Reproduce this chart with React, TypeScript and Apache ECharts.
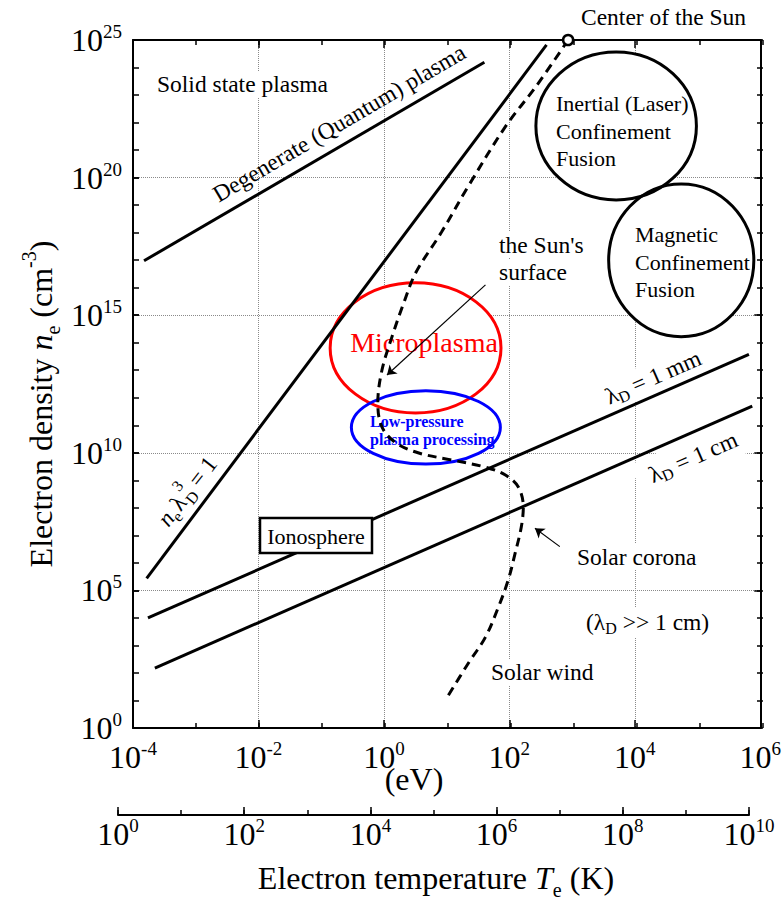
import React, { useEffect, useRef } from 'react';
import * as echarts from 'echarts';

const FONT = '"Liberation Serif", "Times New Roman", serif';
const BLACK = '#000000';

// Axis ranges
const tempEvRange = [1e-4, 1e6];
const tempKRange = [1, 1e10];
const densityRange = [1, 1e25];

// Boundary lines, end points as [T (eV)], [n (cm^-3)]
const degenerateT = [1.5e-4, 40];
const degenerateN = [9.5e16, 1.55e24];
const idealT = [1.65e-4, 391];
const idealN = [2.75e5, 6.6e24];
const debyeMmT = [1.73e-4, 6.6e5];
const debyeMmN = [1.0e4, 3.8e13];
const debyeCmT = [2.23e-4, 7.46e5];
const debyeCmN = [1.51e2, 5.0e11];

// Solar profile: core -> surface -> corona -> wind
const sunT = [865, 268, 86.5, 22.3, 8.3, 3.2, 2.07, 1.34, 0.93, 0.8, 0.93, 1.55, 3.6, 12, 41.6, 86.5, 139, 167, 155, 124, 96, 67, 41.6, 22.3, 9.6];
const sunN = [1e25, 2.1e23, 7.1e21, 5e19, 1.05e18, 3.4e16, 2.75e15, 1.6e14, 1e13, 6.5e11, 8.7e10, 2.3e10, 9.8e9, 5.5e9, 3.0e9, 1.55e9, 5.7e8, 1.07e8, 2.0e7, 2.3e6, 2.4e5, 2.5e4, 2.0e3, 230, 10.5];
const sunCenter = [865, 1e25];

// Plasma regimes drawn as ellipses: [Tmin, Tmax, nmin, nmax]
const regimeBounds = [
  [0.139, 73.6, 2.8e11, 1.5e16],
  [0.303, 71.9, 3.9e9, 1.8e12],
  [265, 9.6e4, 1.55e19, 3.7e24],
  [3830, 7.9e5, 1.66e14, 5.9e19],
];
const regimeColors = ['#ff0000', '#0000ff', BLACK, BLACK];

// Pointer arrows [from, to]
const sunSurfaceArrow = [[41.6, 1.26e16], [1.12, 6.7e12]];
const coronaArrow = [[638, 3.9e6], [256, 1.8e7]];

const tickRich = {
  b: { fontSize: 32, lineHeight: 36, fontFamily: FONT, color: BLACK },
  s: { fontSize: 19, lineHeight: 14, verticalAlign: 'top', fontFamily: FONT, color: BLACK },
};
const powerLabel = (v: number) => `{b|10}{s|${Math.round(Math.log10(v))}}`;

type AxisCfg = { line?: boolean; tick: number; label?: boolean; margin?: number; split?: boolean };

function logAxis(grid: number, position: string, range: number[], interval: number, c: AxisCfg) {
  return {
    type: 'log',
    logBase: 10,
    gridIndex: grid,
    position,
    min: range[0],
    max: range[1],
    interval,
    axisLine: { show: !!c.line, onZero: false, lineStyle: { color: BLACK, width: 2 } },
    axisTick: { show: c.tick > 0, inside: true, length: c.tick, lineStyle: { color: BLACK, width: 1.5 } },
    axisLabel: c.label
      ? { show: true, margin: c.margin, formatter: powerLabel, rich: tickRich, showMinLabel: true, showMaxLabel: true }
      : { show: false },
    splitLine: c.split
      ? { show: true, showMinLine: false, showMaxLine: false, lineStyle: { color: '#8a8a8a', width: 1, type: 'dotted' } }
      : { show: false },
    minorTick: { show: false },
    minorSplitLine: { show: false },
  };
}

const zip = (a: number[], b: number[]) => a.map((v, i) => [v, b[i]]);

function solidLine(name: string, T: number[], N: number[]) {
  return {
    type: 'line',
    name,
    xAxisIndex: 0,
    yAxisIndex: 0,
    data: zip(T, N),
    symbol: 'none',
    lineStyle: { color: BLACK, width: 3 },
    z: 3,
    silent: true,
  };
}

function ellipseSeries(fill: boolean) {
  return {
    type: 'custom',
    xAxisIndex: 0,
    yAxisIndex: 0,
    z: fill ? 1 : 3,
    silent: true,
    data: regimeBounds,
    encode: { x: [0, 1], y: [2, 3] },
    renderItem: (params: any, api: any) => {
      const tl = api.coord([api.value(0), api.value(3)]);
      const br = api.coord([api.value(1), api.value(2)]);
      return {
        type: 'ellipse',
        shape: {
          cx: (tl[0] + br[0]) / 2,
          cy: (tl[1] + br[1]) / 2,
          rx: (br[0] - tl[0]) / 2,
          ry: (br[1] - tl[1]) / 2,
        },
        style: fill
          ? { fill: '#ffffff', stroke: 'none' }
          : { fill: 'none', stroke: regimeColors[params.dataIndex], lineWidth: 3 },
      };
    },
  };
}

const base = { fontFamily: FONT, fill: BLACK };

function note(text: string, x: number, y: number, extra: any = {}) {
  return {
    type: 'text',
    x,
    y,
    z: 1.5,
    style: {
      ...base,
      text,
      fontSize: 23.5,
      align: 'left',
      verticalAlign: 'middle',
      backgroundColor: '#ffffff',
      padding: [1, 2],
      ...extra,
    },
  };
}

const richTokens = (fs: number, sub: number, lh: number) => ({
  m: { fontSize: fs, lineHeight: lh, fontFamily: FONT, color: BLACK },
  i: { fontSize: fs, lineHeight: lh, fontFamily: FONT, color: BLACK, fontStyle: 'italic' },
  sb: { fontSize: sub, lineHeight: sub, fontFamily: FONT, color: BLACK, verticalAlign: 'bottom' },
  sp: { fontSize: sub, lineHeight: Math.round(lh * 0.55), fontFamily: FONT, color: BLACK, verticalAlign: 'top' },
});

const piece = (text: string, x: number, y: number, fs: number, italic = false) => ({
  type: 'text',
  x,
  y,
  z: 1.5,
  style: { ...base, text, fontSize: fs, fontStyle: italic ? 'italic' : 'normal', align: 'left', verticalAlign: 'middle' },
});

const deg = Math.PI / 180;

const graphics: any[] = [
  note('Solid state plasma', 155, 84),
  {
    ...note('Degenerate (Quantum) plasma', 339, 123, { align: 'center', backgroundColor: 'transparent' }),
    rotation: 30.4 * deg,
  },
  note('Center of the Sun', 579, 17, { backgroundColor: 'transparent' }),
  note('the Sun\'s', 497, 245),
  note('surface', 497, 272),
  note('Inertial (Laser)', 554, 103.5, { fontSize: 22, backgroundColor: 'transparent' }),
  note('Confinement', 554, 131, { fontSize: 22 }),
  note('Fusion', 554, 158.5, { fontSize: 22 }),
  note('Magnetic', 633, 234, { fontSize: 22 }),
  note('Confinement', 633, 262, { fontSize: 22 }),
  note('Fusion', 633, 289, { fontSize: 22 }),
  note('Solar corona', 575, 557),
  note('Solar wind', 489, 672),
  note('{m|(λ}{sb|D}{m| >> 1 cm)}', 584, 622, { rich: richTokens(23.5, 16, 28) }),
  {
    ...note('{m|λ}{sb|D}{m| = 1 mm}', 653, 377, { align: 'center', rich: richTokens(23.5, 16, 28) }),
    rotation: 23.6 * deg,
  },
  {
    ...note('{m|λ}{sb|D}{m| = 1 cm}', 693, 457, { align: 'center', padding: [4, 14], rich: richTokens(23.5, 16, 28) }),
    rotation: 23.6 * deg,
  },
  {
    type: 'group',
    x: 188,
    y: 490,
    rotation: 52 * deg,
    children: [
      piece('n', -42, 0, 23.5, true),
      piece('e', -31, 8, 16),
      piece('λ', -22, 0, 23.5),
      piece('D', -9, 8, 16),
      piece('3', -7, -11, 16),
      piece('= 1', 8, 0, 23.5),
    ],
  },
  note('Microplasma', 424, 342, { align: 'center', fontSize: 28, fill: '#ff0000', backgroundColor: 'transparent' }),
  note('Low-pressure', 368, 421, { fontSize: 16, fontWeight: 'bold', fill: '#0000ff', backgroundColor: 'transparent' }),
  note('plasma processing', 368, 439.5, { fontSize: 16, fontWeight: 'bold', fill: '#0000ff', backgroundColor: 'transparent' }),
  {
    type: 'rect',
    z: 10,
    shape: { x: 260, y: 518, width: 112, height: 35 },
    style: { fill: '#ffffff', stroke: BLACK, lineWidth: 2.5 },
  },
  { ...note('Ionosphere', 316, 536, { align: 'center', fontSize: 22, backgroundColor: 'transparent' }), z: 11 },
  {
    type: 'text',
    x: 414,
    y: 779,
    style: { ...base, text: '(eV)', fontSize: 32, align: 'center', verticalAlign: 'middle' },
  },
  {
    type: 'text',
    x: 436,
    y: 878,
    style: {
      ...base,
      text: '{m|Electron temperature }{i|T}{sb|e}{m| (K)}',
      align: 'center',
      verticalAlign: 'middle',
      rich: richTokens(32, 20, 44),
    },
  },
  {
    type: 'text',
    x: 41,
    y: 404,
    rotation: 90 * deg,
    style: {
      ...base,
      text: '{m|Electron density }{i|n}{sb|e}{m| (cm}{sp|-3}{m|)}',
      align: 'center',
      verticalAlign: 'middle',
      rich: richTokens(32, 20, 44),
    },
  },
];

const option: any = {
  animation: false,
  backgroundColor: '#ffffff',
  textStyle: { fontFamily: FONT },
  grid: [
    { left: 133, top: 40, width: 630, height: 688 },
    { left: 133, top: 40, width: 630, height: 688 },
    { left: 118, top: 800, width: 631, height: 15 },
    { left: 118, top: 800, width: 631, height: 15 },
  ],
  xAxis: [
    logAxis(0, 'bottom', tempEvRange, 2, { line: true, tick: 8, label: true, margin: 11, split: true }),
    logAxis(0, 'top', tempEvRange, 2, { line: true, tick: 8 }),
    logAxis(1, 'bottom', tempEvRange, 1, { tick: 5 }),
    logAxis(1, 'top', tempEvRange, 1, { tick: 5 }),
    logAxis(2, 'bottom', tempKRange, 2, { line: true, tick: 8, label: true, margin: 1 }),
    logAxis(3, 'bottom', tempKRange, 1, { tick: 5 }),
  ],
  yAxis: [
    logAxis(0, 'left', densityRange, 5, { line: true, tick: 6, label: true, margin: 11, split: true }),
    logAxis(0, 'right', densityRange, 5, { line: true, tick: 6 }),
    logAxis(1, 'left', densityRange, 1, { tick: 6 }),
    logAxis(1, 'right', densityRange, 1, { tick: 6 }),
    { type: 'value', gridIndex: 2, show: false },
    { type: 'value', gridIndex: 3, show: false },
  ],
  series: [
    ellipseSeries(true),
    ellipseSeries(false),
    solidLine('Degenerate (Quantum) plasma', degenerateT, degenerateN),
    solidLine('n_e λ_D^3 = 1', idealT, idealN),
    solidLine('λ_D = 1 mm', debyeMmT, debyeMmN),
    solidLine('λ_D = 1 cm', debyeCmT, debyeCmN),
    {
      type: 'line',
      name: 'Sun',
      xAxisIndex: 0,
      yAxisIndex: 0,
      data: zip(sunT, sunN),
      symbol: 'none',
      smooth: 0.35,
      lineStyle: { color: BLACK, width: 3, type: [9, 6] },
      z: 4,
      silent: true,
    },
    {
      type: 'lines',
      coordinateSystem: 'cartesian2d',
      xAxisIndex: 0,
      yAxisIndex: 0,
      data: [{ coords: sunSurfaceArrow }, { coords: coronaArrow }],
      lineStyle: { color: BLACK, width: 1.2, opacity: 1 },
      symbol: ['none', 'arrow'],
      symbolSize: 9,
      z: 4,
      silent: true,
    },
    {
      type: 'scatter',
      name: 'Center of the Sun',
      xAxisIndex: 0,
      yAxisIndex: 0,
      data: [sunCenter],
      symbol: 'circle',
      symbolSize: 10,
      itemStyle: { color: '#ffffff', borderColor: BLACK, borderWidth: 2.5, opacity: 1 },
      clip: false,
      z: 6,
      silent: true,
    },
  ],
  graphic: { elements: graphics },
};

export default function App() {
  const ref = useRef<HTMLDivElement>(null);
  useEffect(() => {
    document.body.style.margin = '0';
    const chart = echarts.init(ref.current as HTMLDivElement, undefined, { renderer: 'svg' });
    chart.setOption(option);
    return () => chart.dispose();
  }, []);
  return <div ref={ref} style={{ width: 784, height: 907, background: '#ffffff' }} />;
}
